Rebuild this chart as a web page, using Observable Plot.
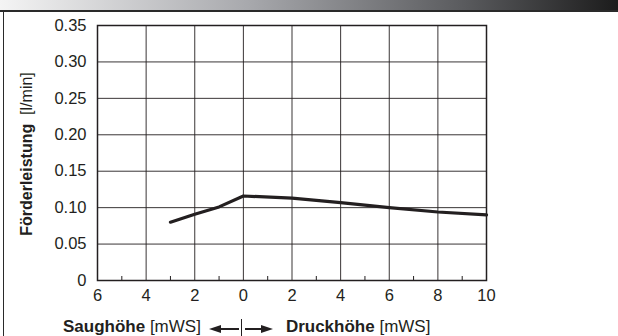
<!DOCTYPE html>
<html>
<head>
<meta charset="utf-8">
<script src="https://cdn.jsdelivr.net/npm/d3@7"></script>
<script src="https://cdn.jsdelivr.net/npm/@observablehq/plot@0.6"></script>
<style>
  html, body { margin: 0; padding: 0; background: #fff; overflow: hidden; }
  #wrap { position: relative; width: 618px; height: 336px; overflow: hidden; font-family: "Liberation Sans", Arial, sans-serif; color: #231f20; }
  #topbar { position: absolute; left: 0; top: 0; width: 618px; height: 10px; background: linear-gradient(to right, #f4f4f4 0%, #a8a9ad 40%, #5a5b5e 75%, #1c1c1c 100%); }
  #topline { position: absolute; left: 0; top: 10px; width: 618px; height: 2px; background: #2a2a2a; }
  #leftline { position: absolute; left: 3px; top: 11px; width: 1px; height: 325px; background: #2a2a2a; }
  #plot { position: absolute; left: 0; top: 0; }
  #ylabel { position: absolute; left: 27px; top: 154px; transform: translate(-50%, -50%) rotate(-90deg); white-space: nowrap; font-size: 16px; }
  #xlabel { position: absolute; left: 63px; top: 317px; white-space: nowrap; font-size: 17px; display: flex; align-items: center; }
  b { font-weight: bold; }
</style>
</head>
<body>
<div id="wrap">
  <div id="plot"></div>
  <div id="topbar"></div>
  <div id="topline"></div>
  <div id="leftline"></div>
  <div id="ylabel"><b>Förderleistung</b>&nbsp; [l/min]</div>
  <div id="xlabel"><span><b>Saughöhe</b> [mWS]</span>
    <svg width="64" height="19" style="margin:0 13px 0 8px" viewBox="0 0 64 19">
      <line x1="8" y1="11" x2="30" y2="11" stroke="#231f20" stroke-width="2"/>
      <polygon points="0,11 12,7 12,15" fill="#231f20"/>
      <line x1="32.5" y1="1" x2="32.5" y2="19" stroke="#231f20" stroke-width="1"/>
      <line x1="36" y1="11" x2="56" y2="11" stroke="#231f20" stroke-width="2"/>
      <polygon points="64,11 52,7 52,15" fill="#231f20"/>
    </svg>
    <span><b>Druckhöhe</b> [mWS]</span></div>
</div>
<script>
// data
const headX = [-3, -2, -1, 0, 2, 4, 6, 8, 10];          // Saughöhe (negative) / Druckhöhe [mWS]
const flow  = [0.080, 0.091, 0.101, 0.116, 0.113, 0.107, 0.100, 0.094, 0.090]; // l/min
const xTicks = [-6, -4, -2, 0, 2, 4, 6, 8, 10];
const xMinor = [-5, -3, -1, 1, 3, 5, 7, 9];
const yTicks = [0, 0.05, 0.10, 0.15, 0.20, 0.25, 0.30, 0.35];

const data = headX.map((x, i) => ({x, y: flow[i]}));
const ink = "#231f20";

const chart = Plot.plot({
  width: 618,
  height: 336,
  marginTop: 25,
  marginBottom: 56,
  marginLeft: 97,
  marginRight: 132,
  style: {fontFamily: "'Liberation Sans', Arial, sans-serif", fontSize: "16.5px", color: ink, background: "transparent", overflow: "hidden"},
  x: {domain: [-6, 10]},
  y: {domain: [0, 0.35]},
  marks: [
    Plot.gridX(xTicks, {stroke: ink, strokeOpacity: 0.9, strokeWidth: 1}),
    Plot.gridY(yTicks, {stroke: ink, strokeOpacity: 0.9, strokeWidth: 1}),
    Plot.frame({stroke: ink, strokeWidth: 1.5}),
    Plot.axisX(xMinor, {tickSize: -4, tickFormat: () => "", stroke: ink, label: null}),
    Plot.axisX(xTicks, {tickSize: 0, tickPadding: 9, tickFormat: d => String(Math.abs(d)), label: null, fill: ink}),
    Plot.axisY(yTicks, {tickSize: 0, tickPadding: 11, tickFormat: d => d === 0 ? "0" : d.toFixed(2), label: null, fill: ink}),
    Plot.line(data, {x: "x", y: "y", stroke: ink, strokeWidth: 3.2})
  ]
});
document.getElementById("plot").appendChild(chart);
</script>
</body>
</html>
